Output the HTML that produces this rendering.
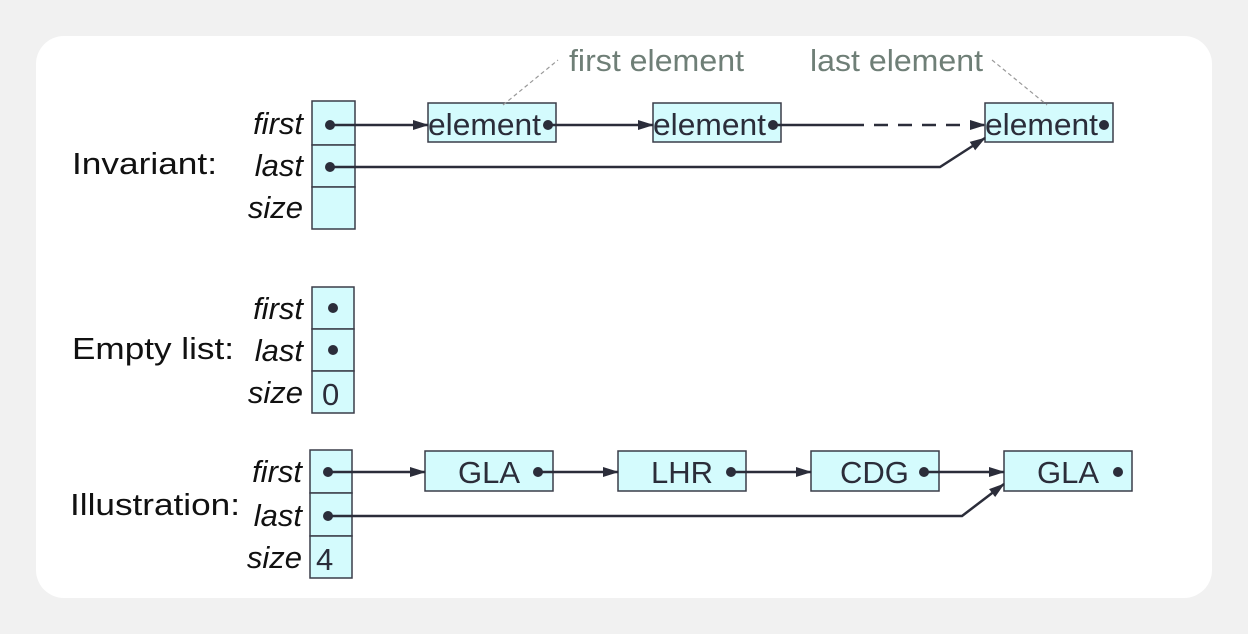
<html><body style="margin:0;background:#f1f1f1">
<svg width="1248" height="634" xmlns="http://www.w3.org/2000/svg" font-family="Liberation Sans, sans-serif">
<defs><marker id="a" markerWidth="16" markerHeight="12" refX="15" refY="6" orient="auto" markerUnits="userSpaceOnUse"><path d="M0,1 L16,6 L0,11 z" fill="#2b2d3a"/></marker></defs>
<rect x="36" y="36" width="1176" height="562" rx="28" fill="#fff"/>
<g fill="#d4fbfd" stroke="#3a3d48" stroke-width="1.5">
<rect x="312" y="101" width="43" height="44"/><rect x="312" y="145" width="43" height="42"/><rect x="312" y="187" width="43" height="42"/>
<rect x="428" y="103" width="128" height="39"/><rect x="653" y="103" width="128" height="39"/><rect x="985" y="103" width="128" height="39"/>
<rect x="312" y="287" width="42" height="42"/><rect x="312" y="329" width="42" height="42"/><rect x="312" y="371" width="42" height="42"/>
<rect x="310" y="450" width="42" height="43"/><rect x="310" y="493" width="42" height="43"/><rect x="310" y="536" width="42" height="42"/>
<rect x="425" y="451" width="128" height="40"/><rect x="618" y="451" width="128" height="40"/><rect x="811" y="451" width="128" height="40"/><rect x="1004" y="451" width="128" height="40"/>
</g>
<g stroke="#2b2d3a" stroke-width="2.5" fill="none">
<line x1="330" y1="125" x2="428" y2="125" marker-end="url(#a)"/>
<line x1="548" y1="125" x2="653" y2="125" marker-end="url(#a)"/>
<line x1="773" y1="125" x2="850" y2="125"/>
<line x1="850" y1="125" x2="985" y2="125" stroke-dasharray="14,10" marker-end="url(#a)"/>
<polyline points="330,167 940,167 985,138" marker-end="url(#a)"/>
<line x1="328" y1="472" x2="425" y2="472" marker-end="url(#a)"/>
<line x1="538" y1="472" x2="618" y2="472" marker-end="url(#a)"/>
<line x1="731" y1="472" x2="811" y2="472" marker-end="url(#a)"/>
<line x1="924" y1="472" x2="1004" y2="472" marker-end="url(#a)"/>
<polyline points="328,516 962,516 1004,484" marker-end="url(#a)"/>
</g>
<g stroke="#999" stroke-width="1.2" stroke-dasharray="4,3"><line x1="503" y1="105" x2="558" y2="60"/><line x1="992" y1="60" x2="1047" y2="105"/></g>
<g fill="#2b2d3a"><circle cx="330" cy="125" r="5"/><circle cx="330" cy="167" r="5"/><circle cx="548" cy="125" r="5"/><circle cx="773" cy="125" r="5"/><circle cx="1104" cy="125" r="5"/>
<circle cx="333" cy="308" r="5"/><circle cx="333" cy="350" r="5"/>
<circle cx="328" cy="472" r="5"/><circle cx="328" cy="516" r="5"/><circle cx="538" cy="472" r="5"/><circle cx="731" cy="472" r="5"/><circle cx="924" cy="472" r="5"/><circle cx="1118" cy="472" r="5"/></g>
<g font-size="31" fill="#111" lengthAdjust="spacingAndGlyphs">
<text x="72" y="174" textLength="145" lengthAdjust="spacingAndGlyphs">Invariant:</text>
<text x="72" y="359" textLength="162" lengthAdjust="spacingAndGlyphs">Empty list:</text>
<text x="70" y="515" textLength="170" lengthAdjust="spacingAndGlyphs">Illustration:</text>
<g font-style="italic" text-anchor="end"><text x="303" y="134">first</text><text x="303" y="176">last</text><text x="303" y="218">size</text>
<text x="303" y="319">first</text><text x="303" y="361">last</text><text x="303" y="403">size</text>
<text x="302" y="482">first</text><text x="302" y="526">last</text><text x="302" y="568">size</text></g>
<g fill="#2b2d3a"><text x="428" y="135" textLength="113" lengthAdjust="spacingAndGlyphs">element</text><text x="653" y="135" textLength="113" lengthAdjust="spacingAndGlyphs">element</text><text x="985" y="135" textLength="113" lengthAdjust="spacingAndGlyphs">element</text>
<text x="322" y="405">0</text><text x="316" y="570">4</text>
<text x="458" y="483">GLA</text><text x="651" y="483">LHR</text><text x="840" y="483">CDG</text><text x="1037" y="483">GLA</text></g>
<g fill="#6f7f77"><text x="569" y="71" textLength="175" lengthAdjust="spacingAndGlyphs">first element</text><text x="810" y="71" textLength="173" lengthAdjust="spacingAndGlyphs">last element</text></g>
</g>
</svg>
</body></html>
